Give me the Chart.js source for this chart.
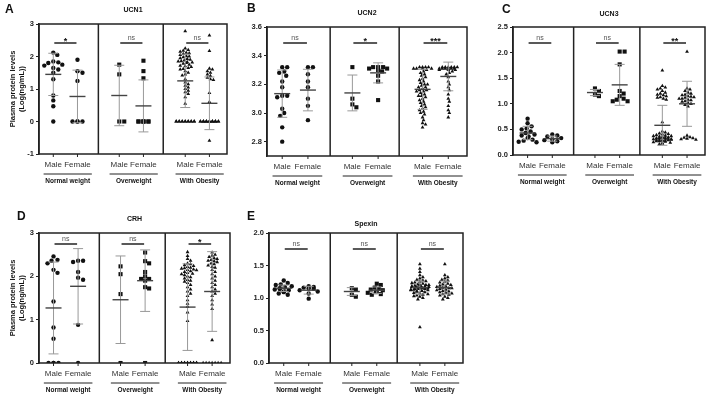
<!DOCTYPE html>
<html>
<head>
<meta charset="utf-8">
<script src="https://cdn.jsdelivr.net/npm/chart.js@4.4.1/dist/chart.umd.min.js"></script>
<style>
  body { margin: 0; background: #fff; }
  #wrap { position: relative; width: 709px; height: 397px; }
  canvas { position: absolute; left: 0; top: 0; }
</style>
</head>
<body>
<div id="wrap">
  <canvas id="ucn1" width="709" height="397"></canvas>
  <canvas id="ucn2" width="709" height="397"></canvas>
  <canvas id="ucn3" width="709" height="397"></canvas>
  <canvas id="crh" width="709" height="397"></canvas>
  <canvas id="spexin" width="709" height="397"></canvas>
</div>
<script>
var weightGroups = ['Normal weight', 'Overweight', 'With Obesity'];
var sexes = ['Male', 'Female'];

// UCN1
var ucn1NormalMale = [2.12, 2.05, 1.85, 1.82, 1.8, 1.75, 1.72, 1.65, 1.6, 1.5, 1.3, 0.8, 0.65, 0.47, 0];
var ucn1NormalFemale = [1.9, 1.55, 1.5, 1.25, 0, 0, 0, 0];
var ucn1OverMale = [1.75, 1.45, 0, 0];
var ucn1OverFemale = [1.87, 1.55, 1.33, 0, 0, 0, 0, 0, 0, 0];
var ucn1ObeseMale = [2.78, 2.25, 2.2, 2.18, 2.15, 2.12, 2.1, 2.08, 2.05, 2.02, 2.0, 1.98, 1.95, 1.93, 1.9, 1.88, 1.86, 1.85,
  1.83, 1.82, 1.8, 1.78, 1.75, 1.72, 1.7, 1.68, 1.65, 1.62, 1.6, 1.55, 1.5, 1.45, 1.42, 1.3, 1.2, 1.15, 1.1, 1.05, 1.0,
  0.95, 0.9, 0.85, 0.75, 0.55, 0, 0, 0, 0, 0, 0, 0, 0, 0, 0, 0, 0, 0, 0];
var ucn1ObeseFemale = [2.65, 2.17, 1.63, 1.6, 1.55, 1.5, 1.45, 1.4, 1.35, 1.3, 1.28, 0.88, 0.6, -0.59,
  0, 0, 0, 0, 0, 0, 0, 0, 0, 0, 0, 0, 0, 0, 0, 0, 0, 0, 0];
var ucn1Means = [1.45, 0.77, 0.8, 0.48, 1.25, 0.56];
var ucn1Sds = [0.65, 0.81, 0.93, 0.8, 0.82, 0.81];
var ucn1Sig = ['*', 'ns', 'ns'];
var ucn1Ticks = [-1, 0, 1, 2, 3];

// UCN2
var ucn2NormalMale = [3.32, 3.32, 3.29, 3.28, 3.26, 3.22, 3.18, 3.12, 3.12, 3.11, 3.03, 3.0, 2.98, 2.9, 2.8];
var ucn2NormalFemale = [3.32, 3.32, 3.27, 3.22, 3.18, 3.1, 3.05, 2.95];
var ucn2OverMale = [3.32, 3.1, 3.06, 3.04];
var ucn2OverFemale = [3.32, 3.32, 3.32, 3.31, 3.31, 3.3, 3.29, 3.26, 3.22, 3.09];
var ucn2ObeseMale = [3.32, 3.32, 3.32, 3.32, 3.31, 3.31, 3.31, 3.31, 3.3, 3.29, 3.28, 3.27, 3.26, 3.25, 3.24, 3.23, 3.22,
  3.21, 3.2, 3.2, 3.19, 3.18, 3.18, 3.17, 3.16, 3.16, 3.15, 3.15, 3.14, 3.13, 3.12, 3.12, 3.11, 3.1, 3.09, 3.08, 3.07,
  3.06, 3.05, 3.04, 3.03, 3.02, 3.01, 3.0, 2.99, 2.97, 2.95, 2.93, 2.92, 2.9];
var ucn2ObeseFemale = [3.32, 3.32, 3.32, 3.32, 3.32, 3.32, 3.31, 3.31, 3.31, 3.31, 3.31, 3.31, 3.3, 3.3, 3.3, 3.29, 3.28,
  3.27, 3.25, 3.22, 3.2, 3.18, 3.16, 3.13, 3.1, 3.08, 3.05, 3.02, 3.0, 2.97];
var ucn2Means = [3.135, 3.16, 3.14, 3.28, 3.165, 3.255];
var ucn2Sds = [0.165, 0.145, 0.125, 0.07, 0.14, 0.1];
var ucn2Sig = ['ns', '*', '***'];
var ucn2Ticks = [2.8, 3.0, 3.2, 3.4, 3.6];

// UCN3
var ucn3NormalMale = [0.71, 0.62, 0.56, 0.52, 0.5, 0.46, 0.43, 0.4, 0.38, 0.36, 0.33, 0.3, 0.28, 0.26, 0.25];
var ucn3NormalFemale = [0.4, 0.38, 0.36, 0.33, 0.31, 0.29, 0.27, 0.25];
var ucn3OverMale = [1.3, 1.25, 1.18, 1.15];
var ucn3OverFemale = [2.02, 2.02, 1.77, 1.25, 1.2, 1.15, 1.1, 1.08, 1.05, 1.05];
var ucn3ObeseMale = [1.65, 1.35, 1.32, 1.3, 1.28, 1.25, 1.22, 1.2, 1.18, 1.17, 1.15, 1.13, 1.12, 1.1, 1.08, 0.64, 0.46,
  0.44, 0.42, 0.41, 0.4, 0.39, 0.38, 0.37, 0.37, 0.36, 0.35, 0.35, 0.34, 0.34, 0.33, 0.33, 0.32, 0.32, 0.31, 0.31, 0.3,
  0.3, 0.3, 0.29, 0.29, 0.28, 0.28, 0.27, 0.27, 0.26, 0.25, 0.24, 0.23, 0.22, 0.21];
var ucn3ObeseFemale = [2.02, 1.3, 1.28, 1.25, 1.22, 1.2, 1.18, 1.17, 1.15, 1.14, 1.13, 1.12, 1.1, 1.1, 1.08, 1.07, 1.05,
  1.04, 1.02, 1.0, 0.98, 0.95, 0.38, 0.35, 0.34, 0.33, 0.32, 0.31, 0.3];
var ucn3Means = [0.43, 0.32, 1.22, 1.37, 0.58, 1.0];
var ucn3Sds = [0.13, 0.05, 0.06, 0.4, 0.39, 0.44];
var ucn3Sig = ['ns', 'ns', '**'];
var ucn3Ticks = [0, 0.5, 1.0, 1.5, 2.0, 2.5];

// CRH
var crhNormalMale = [2.46, 2.38, 2.36, 2.3, 2.15, 2.08, 1.42, 0.82, 0.56, 0, 0, 0, 0];
var crhNormalFemale = [2.36, 2.36, 2.33, 2.1, 1.97, 1.92, 0.88, 0];
var crhOverMale = [2.23, 2.05, 1.59, 0];
var crhOverFemale = [2.55, 2.35, 2.3, 2.1, 2.0, 1.94, 1.94, 1.9, 1.75, 1.72, 0];
var crhObeseMale = [2.56, 2.47, 2.4, 2.36, 2.3, 2.28, 2.26, 2.24, 2.22, 2.2, 2.19, 2.18, 2.16, 2.15, 2.14, 2.12, 2.1,
  2.08, 2.06, 2.05, 2.03, 2.0, 1.98, 1.95, 1.92, 1.9, 1.88, 1.85, 1.8, 1.75, 1.7, 1.65, 1.6, 1.55, 1.45, 1.37, 1.3,
  1.17, 0.97, 0, 0, 0, 0, 0, 0, 0, 0, 0, 0, 0, 0, 0, 0, 0, 0, 0, 0, 0, 0];
var crhObeseFemale = [2.55, 2.5, 2.48, 2.45, 2.42, 2.4, 2.38, 2.36, 2.35, 2.33, 2.3, 2.28, 2.25, 2.22, 2.2, 2.15, 2.1,
  2.05, 2.0, 1.95, 1.9, 1.85, 1.8, 1.75, 1.7, 1.65, 1.6, 1.55, 1.45, 1.35, 1.25, 0.53, 0, 0, 0, 0, 0, 0, 0];
var crhMeans = [1.27, 1.77, 1.46, 1.9, 1.29, 1.65];
var crhSds = [1.06, 0.87, 1.01, 0.71, 1.0, 0.92];
var crhSig = ['ns', 'ns', '*'];
var crhTicks = [0, 1, 2, 3];

// Spexin
var spexinNormalMale = [1.27, 1.23, 1.21, 1.2, 1.18, 1.17, 1.16, 1.15, 1.14, 1.13, 1.12, 1.1, 1.09, 1.07, 1.05];
var spexinNormalFemale = [1.18, 1.17, 1.16, 1.15, 1.14, 1.12, 1.1, 1.07, 0.99];
var spexinOverMale = [1.15, 1.13, 1.05, 1.02];
var spexinOverFemale = [1.22, 1.2, 1.16, 1.14, 1.13, 1.12, 1.1, 1.09, 1.08, 1.06, 1.05];
var spexinObeseMale = [1.52, 1.45, 1.4, 1.35, 1.32, 1.3, 1.28, 1.27, 1.26, 1.25, 1.24, 1.23, 1.22, 1.21, 1.2, 1.2, 1.2,
  1.19, 1.18, 1.18, 1.18, 1.17, 1.17, 1.17, 1.16, 1.16, 1.16, 1.15, 1.15, 1.15, 1.14, 1.14, 1.14, 1.13, 1.13, 1.12,
  1.12, 1.11, 1.11, 1.1, 1.1, 1.09, 1.08, 1.07, 1.06, 1.05, 1.04, 1.03, 1.02, 1.0, 0.98, 0.55];
var spexinObeseFemale = [1.52, 1.35, 1.32, 1.3, 1.28, 1.27, 1.25, 1.24, 1.22, 1.21, 1.2, 1.19, 1.18, 1.17, 1.16, 1.15,
  1.15, 1.14, 1.13, 1.12, 1.11, 1.1, 1.09, 1.08, 1.07, 1.06, 1.05, 1.04, 1.02, 1.0, 0.98];
var spexinMeans = [1.15, 1.12, 1.1, 1.12, 1.16, 1.16];
var spexinSds = [0.05, 0.06, 0.06, 0.05, 0.1, 0.1];
var spexinSig = ['ns', 'ns', 'ns'];
var spexinTicks = [0, 0.5, 1.0, 1.5, 2.0];

var FONT = 'Liberation Sans, Arial, sans-serif';
var slots = [1, 2.1, 4, 5.1, 7, 8.1];   // Male / Female x positions per group
var dividers = [3.05, 6.0];
var X_MIN = 0.35, X_MAX = 8.9;
var shapes = ['circle', 'circle', 'rect', 'rect', 'triangle', 'triangle'];
var radii = [2.2, 2.2, 2.9, 2.9, 2.2, 2.2];
var spacing = [4.6, 4.6, 4.2, 4.2, 3.0, 3.0];   // min centre distance for the swarm, px

var panels = [
  { id: 'ucn1', letter: 'A', title: 'UCN1', min: -1, max: 3, ticks: ucn1Ticks, digits: 0, yTitle: true,
    series: [ucn1NormalMale, ucn1NormalFemale, ucn1OverMale, ucn1OverFemale, ucn1ObeseMale, ucn1ObeseFemale],
    means: ucn1Means, sds: ucn1Sds, sig: ucn1Sig,
    box: { l: 39, t: 24, r: 227, b: 154 }, letterAt: [5, 13], titleY: 12, sigOff: 19 },
  { id: 'ucn2', letter: 'B', title: 'UCN2', min: 2.7, max: 3.6, ticks: ucn2Ticks, digits: 1, yTitle: false,
    series: [ucn2NormalMale, ucn2NormalFemale, ucn2OverMale, ucn2OverFemale, ucn2ObeseMale, ucn2ObeseFemale],
    means: ucn2Means, sds: ucn2Sds, sig: ucn2Sig,
    box: { l: 267, t: 27, r: 467, b: 156 }, letterAt: [247, 12], titleY: 15, sigOff: 16 },
  { id: 'ucn3', letter: 'C', title: 'UCN3', min: 0, max: 2.5, ticks: ucn3Ticks, digits: 1, yTitle: false,
    series: [ucn3NormalMale, ucn3NormalFemale, ucn3OverMale, ucn3OverFemale, ucn3ObeseMale, ucn3ObeseFemale],
    means: ucn3Means, sds: ucn3Sds, sig: ucn3Sig,
    box: { l: 513, t: 27, r: 707, b: 155 }, letterAt: [502, 13], titleY: 16, sigOff: 16 },
  { id: 'crh', letter: 'D', title: 'CRH', min: 0, max: 3, ticks: crhTicks, digits: 0, yTitle: true,
    series: [crhNormalMale, crhNormalFemale, crhOverMale, crhOverFemale, crhObeseMale, crhObeseFemale],
    means: crhMeans, sds: crhSds, sig: crhSig,
    box: { l: 39, t: 233, r: 230, b: 363 }, letterAt: [17, 220], titleY: 221, sigOff: 11 },
  { id: 'spexin', letter: 'E', title: 'Spexin', min: 0, max: 2, ticks: spexinTicks, digits: 1, yTitle: false,
    series: [spexinNormalMale, spexinNormalFemale, spexinOverMale, spexinOverFemale, spexinObeseMale, spexinObeseFemale],
    means: spexinMeans, sds: spexinSds, sig: spexinSig,
    box: { l: 269, t: 233, r: 463, b: 363 }, letterAt: [247, 220], titleY: 226, sigOff: 16 }
];

// beeswarm-ish spread: push close values sideways in pixel space, width capped at +-9px
function swarm(values, center, pxX, pxY, dist) {
  var placed = [], out = [], d2 = dist * dist;
  var sorted = values.slice().sort(function (a, b) { return b - a; });
  sorted.forEach(function (v) {
    var py = v * pxY, best = 0, bestHits = Infinity;
    for (var k = 0; k <= 9; k++) {
      var cands = k === 0 ? [0] : [k, -k];
      cands.forEach(function (px) {
        var hits = 0;
        placed.forEach(function (q) {
          var dx = q[0] - px, dy = q[1] - py;
          if (dx * dx + dy * dy < d2) hits++;
        });
        if (hits < bestHits) { bestHits = hits; best = px; }
      });
    }
    placed.push([best, py]);
    out.push({ x: center + best / pxX, y: v });
  });
  return out;
}

function line(ctx, x1, y1, x2, y2) {
  ctx.beginPath(); ctx.moveTo(x1, y1); ctx.lineTo(x2, y2); ctx.stroke();
}

function makeExtras(p) {
  return {
    id: 'extras_' + p.id,
    afterDatasetsDraw: function (chart) {
      var ctx = chart.ctx, a = chart.chartArea, xs = chart.scales.x, ys = chart.scales.y;
      ctx.save();
      // mean +- SD bars
      for (var i = 0; i < 6; i++) {
        var cx = xs.getPixelForValue(slots[i]);
        var m = ys.getPixelForValue(p.means[i]);
        var hi = ys.getPixelForValue(p.means[i] + p.sds[i]);
        var lo = ys.getPixelForValue(p.means[i] - p.sds[i]);
        ctx.strokeStyle = '#999'; ctx.lineWidth = 1;
        line(ctx, cx, hi, cx, lo);
        line(ctx, cx - 5, hi, cx + 5, hi);
        line(ctx, cx - 5, lo, cx + 5, lo);
        ctx.strokeStyle = '#444'; ctx.lineWidth = 1.4;
        line(ctx, cx - 8, m, cx + 8, m);
      }
      // frame and group dividers
      ctx.strokeStyle = '#222'; ctx.lineWidth = 1.5;
      ctx.strokeRect(a.left, a.top, a.right - a.left, a.bottom - a.top);
      dividers.forEach(function (d) {
        var x = xs.getPixelForValue(d);
        line(ctx, x, a.top, x, a.bottom);
      });
      // x ticks, sex labels, group underline and names
      ctx.lineWidth = 1;
      ctx.textAlign = 'center';
      for (var g = 0; g < 3; g++) {
        var mx = xs.getPixelForValue(slots[2 * g]);
        var fx = xs.getPixelForValue(slots[2 * g + 1]);
        ctx.strokeStyle = '#222';
        line(ctx, mx, a.bottom, mx, a.bottom + 3);
        line(ctx, fx, a.bottom, fx, a.bottom + 3);
        ctx.font = '8px ' + FONT;
        ctx.fillStyle = '#333';
        ctx.textBaseline = 'alphabetic';
        ctx.fillText(sexes[0], mx, a.bottom + 13);
        ctx.fillText(sexes[1], fx, a.bottom + 13);
        var x1 = mx - ctx.measureText(sexes[0]).width / 2 - 1;
        var x2 = fx + ctx.measureText(sexes[1]).width / 2 + 1;
        line(ctx, x1, a.bottom + 20, x2, a.bottom + 20);
        ctx.font = 'bold 6.5px ' + FONT;
        ctx.fillStyle = '#111';
        ctx.fillText(weightGroups[g], (x1 + x2) / 2, a.bottom + 29);
        // significance
        var sy = a.top + p.sigOff;
        ctx.lineWidth = 1.5;
        line(ctx, mx + 1, sy, fx - 1, sy);
        ctx.lineWidth = 1;
        if (p.sig[g] === 'ns') {
          ctx.font = '7px ' + FONT; ctx.fillStyle = '#555';
          ctx.fillText('ns', (mx + fx) / 2, sy - 3);
        } else {
          ctx.font = 'bold 9px ' + FONT; ctx.fillStyle = '#111';
          ctx.fillText(p.sig[g], (mx + fx) / 2, sy + 1);
        }
      }
      // title and panel letter
      ctx.fillStyle = '#111';
      ctx.font = 'bold 7px ' + FONT;
      ctx.fillText(p.title, (a.left + a.right) / 2, p.titleY);
      ctx.textAlign = 'left';
      ctx.font = 'bold 12px ' + FONT;
      ctx.fillText(p.letter, p.letterAt[0], p.letterAt[1]);
      // y axis title
      if (p.yTitle) {
        ctx.save();
        ctx.translate(12, (a.top + a.bottom) / 2);
        ctx.rotate(-Math.PI / 2);
        ctx.textAlign = 'center';
        ctx.font = 'bold 7.5px ' + FONT;
        ctx.fillText('Plasma protein levels', 0, 3);
        ctx.fillText('(Log(ng/mL))', 0, 12);
        ctx.restore();
      }
      ctx.restore();
    }
  };
}

panels.forEach(function (p) {
  var pxX = (p.box.r - p.box.l) / (X_MAX - X_MIN);
  var pxY = (p.box.b - p.box.t) / (p.max - p.min);
  var yAxisW = 30;
  var datasets = p.series.map(function (vals, i) {
    return {
      label: weightGroups[Math.floor(i / 2)] + ' ' + sexes[i % 2],
      data: swarm(vals, slots[i], pxX, pxY, spacing[i]),
      pointStyle: shapes[i],
      pointRadius: radii[i],
      backgroundColor: '#111',
      borderColor: '#111',
      borderWidth: 0
    };
  });
  new Chart(document.getElementById(p.id).getContext('2d'), {
    type: 'scatter',
    data: { datasets: datasets },
    options: {
      responsive: false,
      animation: false,
      layout: {
        padding: { left: p.box.l - yAxisW, top: p.box.t, right: 709 - p.box.r, bottom: 397 - p.box.b }
      },
      plugins: { legend: { display: false }, tooltip: { enabled: false } },
      scales: {
        x: { type: 'linear', min: X_MIN, max: X_MAX, display: false },
        y: {
          min: p.min,
          max: p.max,
          afterBuildTicks: function (scale) {
            scale.ticks = p.ticks.map(function (v) { return { value: v }; });
          },
          afterFit: function (scale) { scale.width = yAxisW; },
          ticks: {
            color: '#222',
            padding: 2,
            font: { family: FONT, size: 7.5, weight: 'bold' },
            callback: function (v) { return Number(v).toFixed(p.digits); }
          },
          grid: { drawOnChartArea: false, drawTicks: true, tickLength: 3, color: '#222' },
          border: { display: true, color: '#222', width: 1.5 }
        }
      }
    },
    plugins: [makeExtras(p)]
  });
});
</script>
</body>
</html>
